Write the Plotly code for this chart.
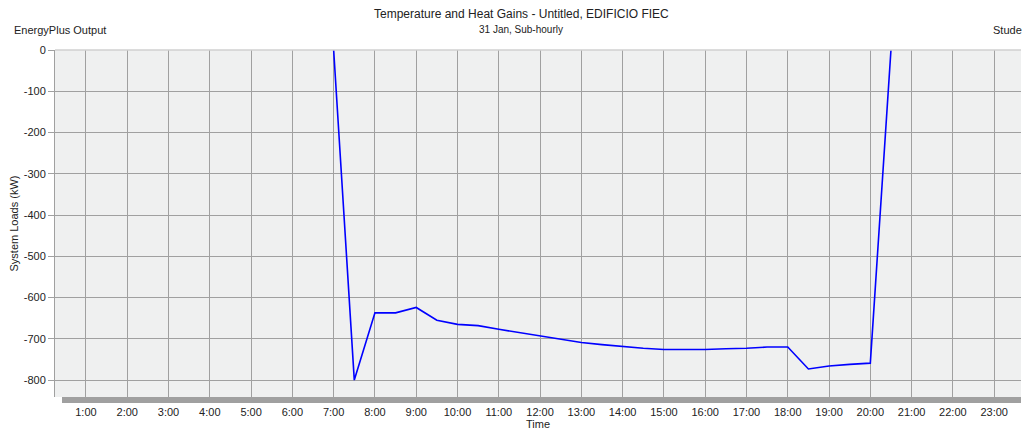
import plotly.graph_objects as go

# Time in hours (30-min steps) and system loads (kW)
hours = [7.0, 7.5, 8.0, 8.5, 9.0, 9.5, 10.0, 10.5, 11.0, 11.5, 12.0, 12.5,
         13.0, 13.5, 14.0, 14.5, 15.0, 15.5, 16.0, 16.5, 17.0, 17.5, 18.0,
         18.5, 19.0, 19.5, 20.0, 20.5]
loads = [0, -800, -637, -637, -624, -655, -665, -668, -677, -685, -693, -701,
         -709, -714, -719, -723, -726, -726, -726, -724, -723, -720, -720,
         -773, -766, -762, -759, 0]

tick_vals = list(range(1, 24))
tick_text = [f"{h}:00" for h in tick_vals]
y_ticks = list(range(0, -900, -100))

FONT = "Liberation Sans, Arial, sans-serif"

fig = go.Figure()
fig.add_trace(go.Scatter(x=hours, y=loads, mode="lines",
                         line=dict(color="#0000FF", width=1.6),
                         hoverinfo="skip", showlegend=False))

W, H = 1027, 430
ml, mr, mt, mb = 55, 6, 50, 33
pw = W - ml - mr
ph = H - mt - mb

fig.update_layout(
    width=W, height=H,
    margin=dict(l=ml, r=mr, t=mt, b=mb, autoexpand=False),
    paper_bgcolor="white",
    plot_bgcolor="#EFF0F0",
    font=dict(family=FONT, size=11, color="#222222"),
    showlegend=False,
    xaxis=dict(
        range=[0.25, 23.65], tickmode="array", tickvals=tick_vals, ticktext=tick_text,
        showgrid=True, gridcolor="#A0A0A0", gridwidth=1, zeroline=False,
        showline=False, ticks="outside", ticklen=5, tickcolor="#A0A0A0",
        automargin=False,
        tickfont=dict(size=11, family=FONT, color="#222222"),
        title=dict(text="Time", standoff=0, font=dict(size=11, family=FONT)),
    ),
    yaxis=dict(
        range=[-841, 0], tickmode="array", tickvals=y_ticks,
        ticktext=[str(v) for v in y_ticks],
        showgrid=True, gridcolor="#A0A0A0", gridwidth=1, zeroline=False,
        showline=True, linecolor="#A0A0A0", linewidth=1,
        ticks="outside", ticklen=6, tickcolor="#A0A0A0",
        automargin=False,
        tickfont=dict(size=11, family=FONT, color="#222222"),
        title=dict(text="System Loads (kW)", standoff=2, font=dict(size=11, family=FONT)),
    ),
    shapes=[
        # 3D-style bottom shadow bar
        dict(type="rect", xref="paper", yref="paper",
             x0=7 / pw, x1=1.0, y0=-6 / ph, y1=0,
             fillcolor="#A0A0A0", line=dict(width=0), layer="above"),
        # top border line
        dict(type="line", xref="paper", yref="paper",
             x0=0, x1=1.0, y0=1.0, y1=1.0,
             line=dict(color="#D0D0D0", width=1.5)),
    ],
    annotations=[
        dict(text="Temperature and Heat Gains - Untitled, EDIFICIO FIEC",
             xref="paper", yref="paper", x=(521 - ml) / pw, y=1 + 36 / ph,
             showarrow=False, xanchor="center", yanchor="middle",
             font=dict(size=12, family=FONT, color="#222222")),
        dict(text="31 Jan, Sub-hourly",
             xref="paper", yref="paper", x=(521 - ml) / pw, y=1 + 21 / ph,
             showarrow=False, xanchor="center", yanchor="middle",
             font=dict(size=10, family=FONT, color="#222222")),
        dict(text="EnergyPlus Output",
             xref="paper", yref="paper", x=(12 - ml) / pw, y=1 + 20 / ph,
             showarrow=False, xanchor="left", yanchor="middle",
             font=dict(size=11, family=FONT, color="#222222")),
        dict(text="Stude",
             xref="paper", yref="paper", x=(1024 - ml) / pw, y=1 + 20 / ph,
             showarrow=False, xanchor="right", yanchor="middle",
             font=dict(size=11, family=FONT, color="#222222")),
    ],
)

fig.write_html("out.html", config={"displayModeBar": False},
               post_script="document.body.style.margin='0';document.body.style.overflow='hidden';")
